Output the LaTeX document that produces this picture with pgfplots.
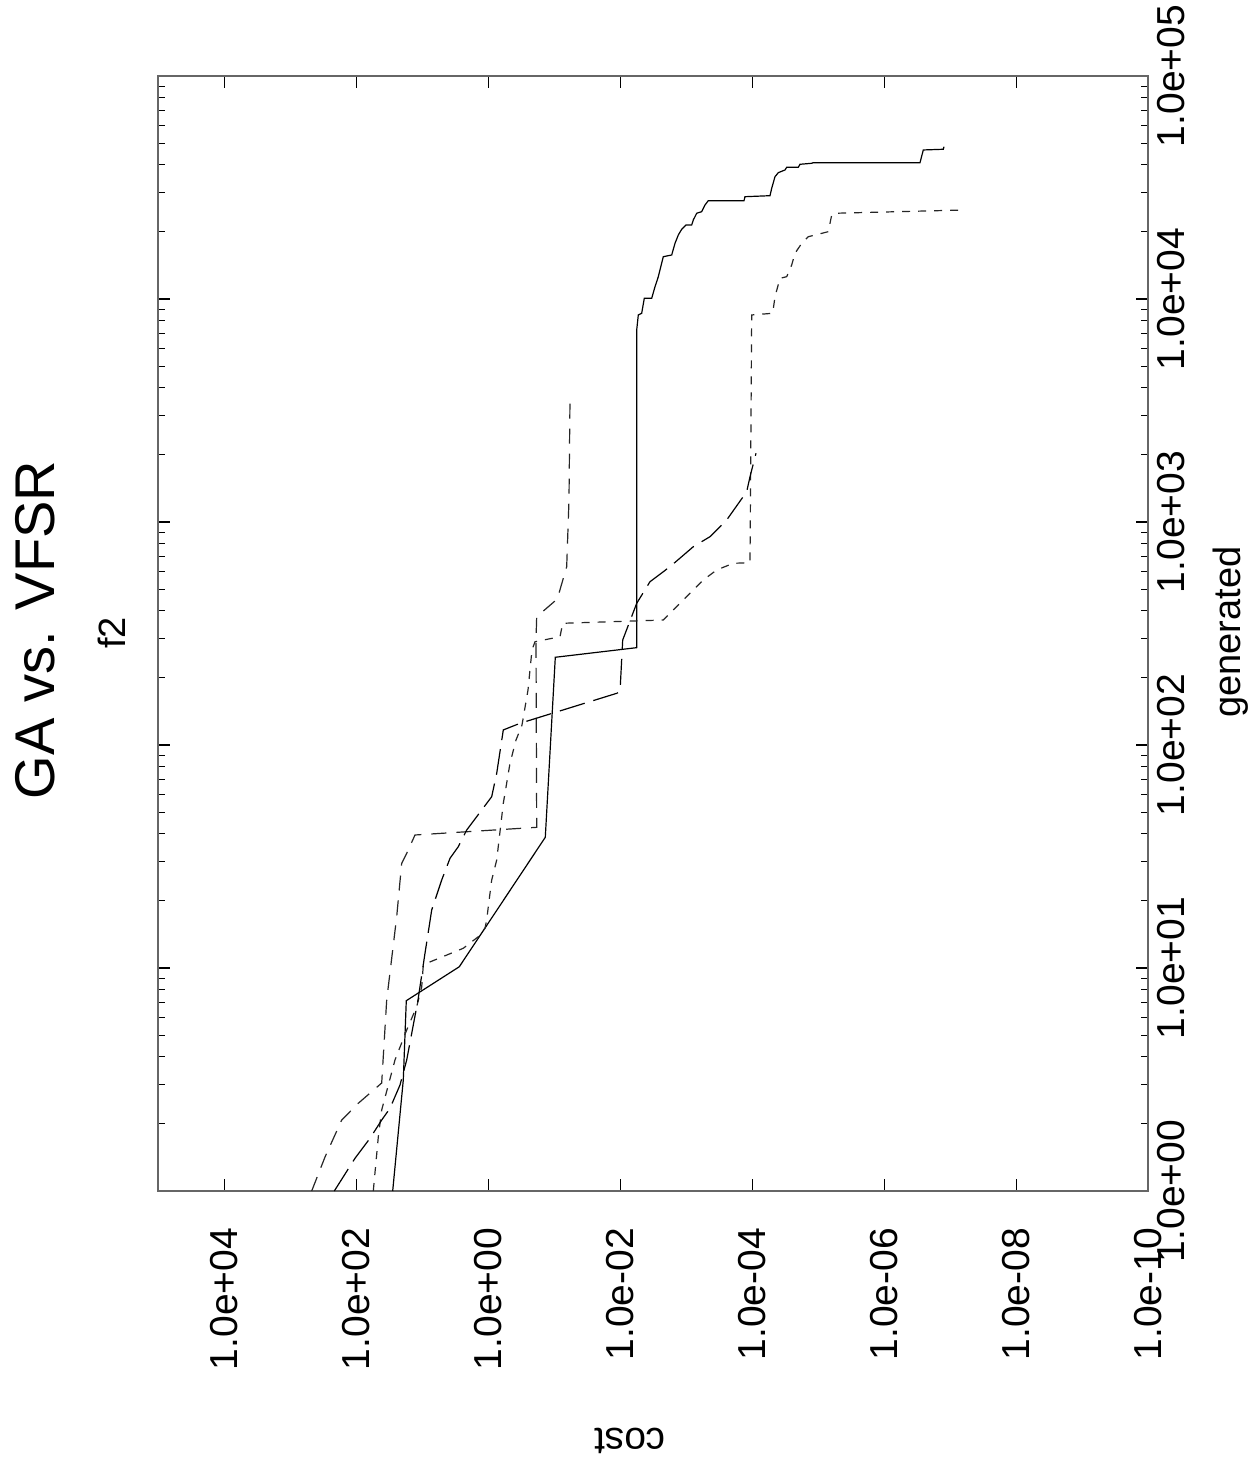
\documentclass[border=0pt]{standalone}
\usepackage{fontspec}
\setmainfont{Liberation Sans}
\usepackage{pgfplots}
\pgfplotsset{compat=1.18}
\begin{document}
\begin{tikzpicture}
\begin{axis}[
  at={(0,0)}, anchor=south west,
  scale only axis, width=495pt, height=557.5pt,
  xmode=log, ymode=log,
  x dir=reverse,
  xmin=1e-10, xmax=1e5, ymin=1, ymax=1e5,
  xtick={1e4,1e2,1,1e-2,1e-4,1e-6,1e-8,1e-10},
  xticklabels={1.0e+04,1.0e+02,1.0e+00,1.0e-02,1.0e-04,1.0e-06,1.0e-08,1.0e-10},
  ytick={1,10,100,1000,10000,100000},
  yticklabels={1.0e+00,1.0e+01,1.0e+02,1.0e+03,1.0e+04,1.0e+05},
  xminorticks=false,
  minor ytick={2,3,4,5,6,7,8,9,20,30,40,50,60,70,80,90,200,300,400,500,600,700,800,900,2000,3000,4000,5000,6000,7000,8000,9000,20000,30000,40000,50000,60000,70000,80000,90000},
  yticklabel pos=right,
  tick align=inside,
  major tick length=6pt, minor tick length=3.5pt,
  tick style={black, line width=0.6pt},
  axis line style={draw=black!60, line width=1pt},
  xticklabel style={font=\fontsize{19.5}{21}\selectfont, yshift=-15pt, rotate=90, anchor=east},
  yticklabel style={font=\fontsize{19.5}{21}\selectfont, xshift=1pt, rotate=90, anchor=north},
]
\addplot[black, line width=0.6pt, mark=none] coordinates {
(28.09,1) (19.41,3.146) (17.48,7.135) (2.751,10.13) (0.1369,38.56) (0.09656,247.4) (0.005642,273.2) (0.005642,7261) (0.005337,8479) (0.004740,8629) (0.004328,10072) (0.003343,10072) (0.002979,11355) (0.002655,12589) (0.002231,15478) (0.001664,15753) (0.001483,17775) (0.001322,19364) (0.001174,20540) (0.001010,21470) (8.284e-4,21470) (7.833e-4,22616) (6.957e-4,24235) (5.843e-4,24640) (5.207e-4,26398) (4.642e-4,27596) (1.335e-4,27596) (1.290e-4,28756) (5.393e-5,29056) (5.083e-5,31360) (4.531e-5,35355) (4.038e-5,36851) (3.196e-5,37892) (3.012e-5,38963) (2.009e-5,38963) (1.894e-5,40182) (1.259e-5,40601) (1.191e-5,40854) (2.878e-7,40854) (2.565e-7,46592) (1.277e-7,46926) (1.246e-7,48194)
};
\addplot[black!85, line width=0.6pt, mark=none, dash pattern=on 4pt off 4pt] coordinates {
(55.27,1) (46.42,1.746) (41.23,2.308) (25.92,3.868) (17.23,5.272) (12.16,6.707) (10.21,8.219) (9.656,10.31) (8.577,10.50) (2.392,12.26) (1.418,13.81) (1.122,15.07) (1.057,16.42) (1.0,18.83) (0.8882,24.80) (0.7459,30.50) (0.5925,54.77) (0.4691,82.78) (0.3804,105.3) (0.3086,122.9) (0.2503,176.4) (0.2178,266.7) (0.1961,290.5) (0.08197,305.9) (0.07459,351.4) (0.002231,363.5) (0.001110,446.9) (5.526e-4,549.5) (3.463e-4,609.3) (1.941e-4,652.9) (1.083e-4,657.0) (1.021e-4,8479) (4.909e-5,8629) (4.531e-5,10240) (3.804e-5,12381) (3.012e-5,12589) (2.529e-5,14212) (2.254e-5,16031) (1.784e-5,17775) (1.417e-5,19031) (7.055e-6,20038) (6.266e-6,23814) (5.585e-6,24235) (5.989e-8,25070)
};
\addplot[black!85, line width=0.6pt, mark=none, dash pattern=on 7.5pt off 5pt] coordinates {
(474.0,1) (298.0,1.420) (166.4,2.081) (93.26,2.474) (41.23,3.050) (34.63,7.186) (24.43,16.98) (20.52,29.48) (17.23,32.68) (12.90,39.49) (0.1848,42.74) (0.1894,295.7) (0.1848,376.1) (0.09006,451.5) (0.06490,630.4) (0.05990,1255) (0.05783,3525)
};
\addplot[black, line width=0.6pt, mark=none, dash pattern=on 13pt off 4.5pt] coordinates {
(215.4,1) (104.6,1.402) (62.01,1.723) (41.23,2.081) (30.86,2.349) (21.77,2.988) (17.23,3.868) (11.62,7.186) (9.101,11.64) (7.204,18.20) (5.083,24.80) (3.804,31.04) (2.848,34.99) (2.125,41.57) (1.499,47.70) (0.8882,58.64) (0.7459,74.67) (0.5925,116.8) (0.3309,125.1) (0.01134,170.5) (0.01010,173.4) (0.009196,295.7) (0.005642,431.9) (0.003548,539.9) (0.001766,630.4) (7.833e-4,774.9) (4.373e-4,859.3) (2.443e-4,1021) (1.216e-4,1367) (1.083e-4,1596) (8.789e-5,2033)
};
\end{axis}
\node[rotate=90, font=\fontsize{28}{31}\selectfont, inner sep=0pt] at (-61.65pt,280.5pt) {GA vs. VFSR};
\node[rotate=90, font=\fontsize{19}{21}\selectfont, inner sep=0pt] at (-23.3pt,279pt) {f2};
\node[rotate=90, font=\fontsize{19}{21}\selectfont, inner sep=0pt] at (536.3pt,279.5pt) {generated};
\node[rotate=180, font=\fontsize{19.5}{21}\selectfont, inner sep=0pt] at (235.85pt,-125pt) {cost};
\pgfresetboundingbox
\useasboundingbox (-79.15pt,-135.5pt) rectangle (550.35pt,595.5pt);
\end{tikzpicture}
\end{document}
